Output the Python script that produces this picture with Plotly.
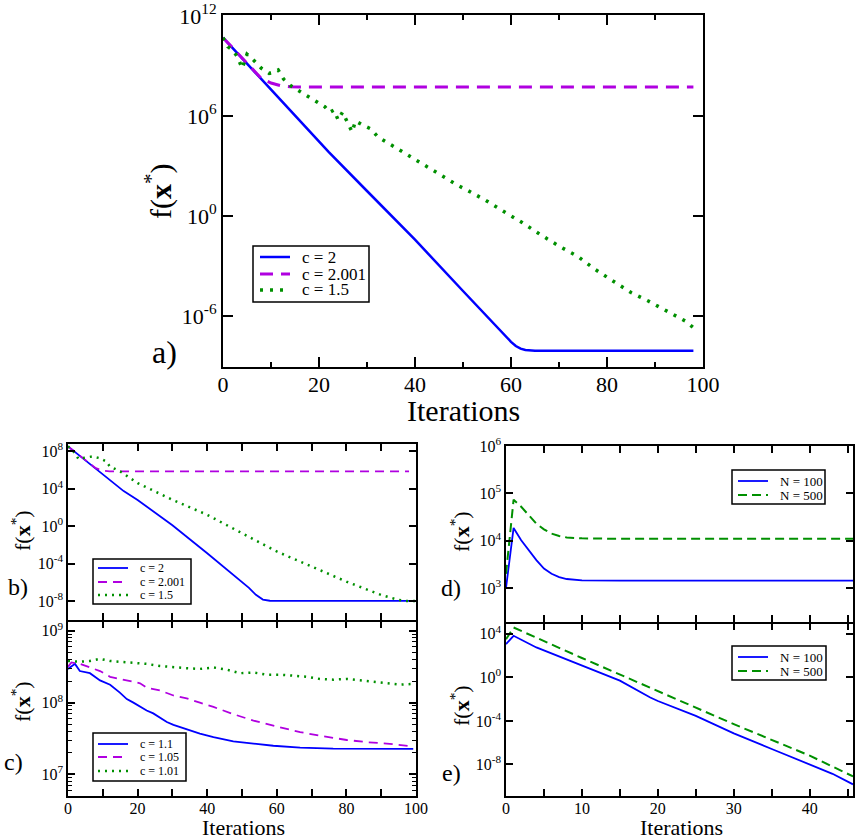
import plotly.graph_objects as go

FONT = "Liberation Serif"
BLUE, VIOLET, GREEN = "#0000ff", "#b000e0", "#009000"
W, H = 858, 839

# all y lists hold log10 of f(x*)

# a) c = 2 / 2.001 / 1.5
a_x_c2 = [0, 4, 8, 12, 16, 20, 22, 30, 40, 50, 58, 60, 61, 62, 63, 65, 70, 80, 90, 98]
a_y_c2 = [10.70, 9.45, 8.20, 6.95, 5.70, 4.45, 3.85, 1.50, -1.42, -4.50, -6.95, -7.55,
          -7.80, -7.96, -8.04, -8.08, -8.09, -8.09, -8.09, -8.09]
a_x_c2001 = [0, 4, 8, 10, 12, 14, 16, 30, 50, 70, 98]
a_y_c2001 = [10.70, 9.45, 8.25, 7.98, 7.82, 7.76, 7.74, 7.74, 7.74, 7.74, 7.74]
a_x_c15 = [0, 1, 2, 3, 4, 5, 6, 8, 9.6, 10.4, 11.5, 12.6, 14.2, 16.1, 18.1, 19.8,
           21.2, 22.2, 23.1, 24, 24.9, 26.9, 27.6, 29.2, 30.7, 32.3, 35.7, 37.7, 41.5,
           45.4, 48.8, 50.8, 54.6, 58.5, 62.3, 66.2, 70.1, 73.9, 77.4, 81.3, 85.1, 88.6,
           92.4, 96.3, 98]
a_y_c15 = [10.70, 10.16, 9.96, 9.56, 8.86, 9.70, 9.46, 8.86, 8.56, 8.60, 8.76, 8.22,
           7.80, 7.46, 7.10, 6.76, 6.56, 6.22, 6.36, 5.76, 6.23, 5.04, 5.70, 5.44, 5.24,
           4.74, 4.14, 3.79, 3.15, 2.45, 1.86, 1.56, 0.96, 0.27, -0.39, -1.13, -1.82,
           -2.42, -3.18, -3.91, -4.61, -5.10, -5.70, -6.30, -6.70]

# b) same c values, other start point
b_x_c2 = [0, 8, 16, 20, 30, 40, 50, 52, 54, 56, 58, 62, 100]
b_y_c2 = [8.54, 6.15, 3.75, 2.80, 0.10, -2.90, -5.95, -6.60, -7.35, -7.85, -7.98, -8.00, -8.00]
b_x_c2001 = [0, 8, 10, 12, 20, 50, 98]
b_y_c2001 = [8.54, 6.20, 5.95, 5.87, 5.86, 5.86, 5.86]
b_x_c15 = [0, 2, 3, 5, 7, 9, 11, 12, 15, 20, 30, 40, 50, 60, 70, 80, 90, 95, 97, 100]
b_y_c15 = [8.54, 7.82, 7.20, 7.29, 7.46, 7.29, 6.93, 6.39, 5.86, 4.61, 2.82, 1.21, -0.75,
           -2.71, -4.32, -5.93, -7.36, -7.89, -8.00, -8.00]

# c) c = 1.1 / 1.05 / 1.01
c_x_c11 = [0, 2, 3.4, 6.3, 9.2, 12.1, 14.9, 16.9, 18.8, 20.7, 22.6, 24.5, 26.4, 28.4,
           30.3, 34.1, 37.9, 41.8, 47.5, 53.3, 59, 66.7, 76.2, 99.2]
c_y_c11 = [8.47, 8.54, 8.44, 8.41, 8.31, 8.25, 8.14, 8.05, 8.00, 7.94, 7.89, 7.85, 7.79,
           7.73, 7.69, 7.63, 7.57, 7.52, 7.46, 7.43, 7.40, 7.375, 7.36, 7.356]
c_x_c105 = [0, 1, 3.4, 6.3, 9.2, 12.1, 14.9, 16.9, 20.7, 22.6, 26.4, 30.3, 34.1, 37.9,
            41.8, 47.5, 53.3, 59, 66.7, 72.4, 80.1, 85.8, 91.6, 99.2]
c_y_c105 = [8.50, 8.56, 8.54, 8.49, 8.44, 8.36, 8.33, 8.31, 8.27, 8.21, 8.17, 8.10, 8.06,
            8.00, 7.94, 7.84, 7.75, 7.68, 7.59, 7.54, 7.48, 7.45, 7.43, 7.39]
c_x_c101 = [0, 3.4, 6.3, 9.2, 12.1, 14.9, 18.8, 22.6, 26.4, 30.3, 34.1, 37.9, 41.8, 45.6,
            49.4, 53.3, 57.1, 60.9, 64.8, 68.6, 72.4, 76.2, 80.1, 83.9, 87.7, 91.6, 95.4, 99.2]
c_y_c101 = [8.58, 8.57, 8.58, 8.61, 8.58, 8.57, 8.56, 8.54, 8.51, 8.49, 8.48, 8.47, 8.49,
            8.46, 8.41, 8.42, 8.39, 8.39, 8.38, 8.36, 8.33, 8.32, 8.33, 8.31, 8.28, 8.27,
            8.25, 8.26]

# d) and e) N = 100 / 500
d_x_n100 = [0, 1, 2, 3, 4, 5, 6, 7, 8, 10, 15, 45.7]
d_y_n100 = [3.00, 4.27, 4.01, 3.80, 3.59, 3.41, 3.30, 3.23, 3.19, 3.16, 3.155, 3.155]
d_x_n500 = [0, 1, 2, 3, 4, 5, 6, 7, 8, 10, 15, 45.7]
d_y_n500 = [3.30, 4.87, 4.72, 4.54, 4.36, 4.24, 4.15, 4.10, 4.07, 4.05, 4.04, 4.04]

e_x_n100 = [0, 1, 4, 10, 15, 19, 20, 25, 30, 35, 40, 41, 43, 45.7]
e_y_n100 = [3.06, 3.82, 2.75, 1.08, -0.30, -1.85, -2.17, -3.54, -5.15, -6.58, -8.00,
            -8.30, -8.86, -9.83]
e_x_n500 = [0, 1, 10, 20, 30, 40, 45.7]
e_y_n500 = [3.50, 4.58, 1.78, -1.26, -4.30, -7.19, -9.10]


def px_x(p):
    return p / W


def px_y(p):
    return 1 - p / H


series = [
    # x, log y, name, colour, dash, width, panel
    (a_x_c2, a_y_c2, "c = 2", BLUE, "solid", 2.5, "a"),
    (a_x_c2001, a_y_c2001, "c = 2.001", VIOLET, "13px,8px", 3, "a"),
    (a_x_c15, a_y_c15, "c = 1.5", GREEN, "3px,7px", 3.5, "a"),
    (b_x_c2, b_y_c2, "c = 2", BLUE, "solid", 1.8, "b"),
    (b_x_c2001, b_y_c2001, "c = 2.001", VIOLET, "9px,6px", 1.8, "b"),
    (b_x_c15, b_y_c15, "c = 1.5", GREEN, "2px,5px", 2.5, "b"),
    (c_x_c11, c_y_c11, "c = 1.1", BLUE, "solid", 1.8, "c"),
    (c_x_c105, c_y_c105, "c = 1.05", VIOLET, "9px,6px", 1.8, "c"),
    (c_x_c101, c_y_c101, "c = 1.01", GREEN, "2px,5px", 2.5, "c"),
    (d_x_n100, d_y_n100, "N = 100", BLUE, "solid", 1.8, "d"),
    (d_x_n500, d_y_n500, "N = 500", GREEN, "9px,5px", 2, "d"),
    (e_x_n100, e_y_n100, "N = 100", BLUE, "solid", 1.8, "e"),
    (e_x_n500, e_y_n500, "N = 500", GREEN, "9px,5px", 2, "e"),
]
axis_of = {"a": "", "b": "2", "c": "3", "d": "4", "e": "5"}

fig = go.Figure()
for xs, logs, name, color, dash, width, panel in series:
    ax = axis_of[panel]
    fig.add_trace(go.Scatter(
        x=xs, y=[10.0 ** v for v in logs], mode="lines", name=name, showlegend=False,
        line=dict(color=color, dash=dash, width=width),
        xaxis="x" + ax, yaxis="y" + ax,
    ))


def frame(lw, tl, fs, **kw):
    d = dict(showline=True, linecolor="black", linewidth=lw, mirror="allticks",
             ticks="inside", ticklen=tl, tickwidth=lw, tickcolor="black",
             showgrid=False, zeroline=False, automargin=False, ticklabeloverflow="allow",
             tickfont=dict(family=FONT, size=fs, color="black"))
    d.update(kw)
    return d


def log_ticks(exps):
    return dict(tickvals=[10.0 ** e for e in exps],
                ticktext=[f"10<sup>{e}</sup>" for e in exps])


LW = 1.5
FS = 16
ax_b = [px_x(68), px_x(416)]
ax_d = [px_x(506), px_x(853)]
minor_x10 = dict(dtick=10, ticklen=7, tickwidth=LW, ticks="inside")
minor_x5 = dict(dtick=5, ticklen=7, tickwidth=LW, ticks="inside")

fig.update_layout(
    xaxis=frame(2, 10, 22, domain=[px_x(223), px_x(703)], anchor="y", range=[0, 100],
                dtick=20, minor=dict(dtick=10, ticklen=5, tickwidth=2, ticks="inside"),
                ticklabelstandoff=-3),
    yaxis=frame(2, 10, 22, domain=[px_y(367), px_y(15)], anchor="x", type="log",
                range=[-9.06, 12.06], **log_ticks([-6, 0, 6, 12])),
    xaxis2=frame(LW, 7, FS, domain=ax_b, anchor="y2", range=[0, 100],
                 dtick=20, minor=minor_x10, showticklabels=False),
    yaxis2=frame(LW, 7, FS, domain=[px_y(620), px_y(444)], anchor="x2", type="log",
                 range=[-10.04, 8.79], **log_ticks([-8, -4, 0, 4, 8])),
    xaxis3=frame(LW, 7, FS, domain=ax_b, anchor="y3", range=[0, 100],
                 dtick=20, minor=minor_x10, ticklabelstandoff=-3),
    yaxis3=frame(LW, 7, FS, domain=[px_y(796), px_y(620 + LW)], anchor="x3", type="log",
                 range=[6.70, 9.13], **log_ticks([7, 8, 9]),
                 minor=dict(tickvals=[k * 10.0 ** e for e in (6, 7, 8) for k in range(2, 10)],
                            ticklen=4, tickwidth=1, ticks="inside")),
    xaxis4=frame(LW, 7, FS, domain=ax_d, anchor="y4", range=[0, 45.7],
                 dtick=10, minor=minor_x5, showticklabels=False),
    yaxis4=frame(LW, 7, FS, domain=[px_y(622), px_y(446)], anchor="x4", type="log",
                 range=[2.28, 6.005], **log_ticks([3, 4, 5, 6])),
    xaxis5=frame(LW, 7, FS, domain=ax_d, anchor="y5", range=[0, 45.7],
                 dtick=10, minor=minor_x5, ticklabelstandoff=-3),
    yaxis5=frame(LW, 7, FS, domain=[px_y(796), px_y(622 + LW)], anchor="x5", type="log",
                 range=[-10.9, 4.95], **log_ticks([-8, -4, 0, 4])),
)

# boxed legends drawn by hand so their size follows the original
legends = {
    "a": dict(box=(253, 246, 369, 302), sample=(260, 290), text_x=300, rows=[257, 274, 290], size=17),
    "b": dict(box=(93, 559, 191, 604), sample=(98, 128), text_x=138, rows=[568, 582, 595], size=12),
    "c": dict(box=(93, 733, 186, 781), sample=(98, 128), text_x=138, rows=[744, 757, 771], size=12),
    "d": dict(box=(732, 470, 825, 504), sample=(738, 768), text_x=778, rows=[481, 495], size=13),
    "e": dict(box=(732, 646, 826, 680), sample=(738, 768), text_x=778, rows=[657, 671], size=13),
}
for panel, lg in legends.items():
    x0, y0, x1, y1 = lg["box"]
    fig.add_shape(type="rect", xref="paper", yref="paper",
                  x0=px_x(x0), x1=px_x(x1), y0=px_y(y0), y1=px_y(y1),
                  fillcolor="white", line=dict(color="black", width=1.5))
    entries = [s for s in series if s[6] == panel]
    for (xs, logs, name, color, dash, width, _), ry in zip(entries, lg["rows"]):
        fig.add_shape(type="line", xref="paper", yref="paper",
                      x0=px_x(lg["sample"][0]), x1=px_x(lg["sample"][1]),
                      y0=px_y(ry), y1=px_y(ry),
                      line=dict(color=color, dash=dash, width=width))
        fig.add_annotation(text=name, x=px_x(lg["text_x"]), y=px_y(ry), xref="paper",
                           yref="paper", xanchor="left", yanchor="middle", showarrow=False,
                           font=dict(family=FONT, size=lg["size"], color="black"))

ylab = "f(<b>x</b><sup>*</sup>)"
texts = [
    # text, x px, y px, size, angle
    ("a)", 164, 352, 32, 0),
    ("b)", 18, 587, 24, 0),
    ("c)", 13, 762, 24, 0),
    ("d)", 451, 588, 24, 0),
    ("e)", 451, 773, 24, 0),
    (ylab, 158, 192, 30, -90),
    (ylab, 21, 531, 22, -90),
    (ylab, 21, 702, 22, -90),
    (ylab, 460, 532, 22, -90),
    (ylab, 460, 706, 22, -90),
    ("Iterations", 463, 411, 30, 0),
    ("Iterations", 243, 827, 22, 0),
    ("Iterations", 681, 827, 22, 0),
]
for t, x, y, size, ang in texts:
    fig.add_annotation(text=t, x=px_x(x), y=px_y(y), xref="paper", yref="paper",
                       xanchor="center", yanchor="middle", showarrow=False, textangle=ang,
                       font=dict(family=FONT, size=size, color="black"))

fig.update_layout(template="none", width=W, height=H, margin=dict(l=0, r=0, t=0, b=0),
                  font=dict(family=FONT, color="black"),
                  paper_bgcolor="white", plot_bgcolor="white", showlegend=False)

# the page body keeps its default 8px margin otherwise
fig.write_html("out.html", config={"displayModeBar": False},
               post_script="document.body.style.margin = '0';")
